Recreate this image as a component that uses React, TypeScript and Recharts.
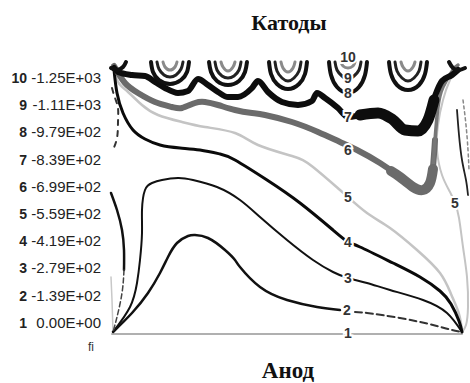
import React from 'react';
import { ComposedChart, Line, Scatter, XAxis, YAxis } from 'recharts';

type Pt = [number, number];

// Legend (level number -> potential value)
const levelNumbers = [1, 2, 3, 4, 5, 6, 7, 8, 9, 10];
const levelValues = ['0.00E+00', '-1.39E+02', '-2.79E+02', '-4.19E+02', '-5.59E+02', '-6.99E+02', '-8.39E+02', '-9.79E+02', '-1.11E+03', '-1.25E+03'];

// Contours, points as [phi, z]
const level1: Pt[] = [[1, 0], [351, 0]];
const level2Solid: Pt[] = [[2, 2], [21, 21], [37, 41], [49, 61], [57, 77], [66, 91], [77, 98], [84, 99], [97, 96], [114, 84], [124, 74], [129, 67], [149, 47], [176, 34], [206, 27], [229, 24]];
const level2Dashed: Pt[] = [[244, 22], [256, 21], [289, 16], [322, 9], [337, 5], [351, 2]];
const level3: Pt[] = [[2, 2], [19, 27], [26, 51], [29, 74], [31, 101], [31, 124], [34, 144], [41, 151], [51, 154], [67, 156], [82, 154], [106, 147], [129, 134], [149, 117], [176, 94], [202, 74], [222, 62], [237, 56], [256, 51], [279, 44], [312, 34], [336, 21], [351, 2]];
const level4: Pt[] = [[3, 264], [6, 241], [12, 221], [22, 204], [34, 195], [49, 189], [69, 186], [89, 184], [109, 180], [124, 174], [156, 154], [189, 131], [222, 104], [237, 92], [249, 87], [282, 71], [309, 57], [329, 43], [340, 30], [348, 13], [351, 2]];
const level4Wall: Pt[] = [[0, 141], [6, 124], [11, 104], [13, 84], [13, 64]];
const level4WallLow: Pt[] = [[13, 64], [11, 41], [6, 17], [2, 2]];
const wallTopLeft: Pt[] = [[1, 246], [4, 236], [7, 226], [7, 212], [6, 196], [1, 182]];
const level5: Pt[] = [[3, 266], [7, 252], [17, 242], [31, 229], [47, 219], [71, 212], [94, 207], [124, 201], [147, 189], [181, 178], [202, 167], [229, 144], [237, 137], [256, 121], [279, 106], [306, 84], [329, 61], [340, 40], [348, 20], [351, 2]];
const level5Right: Pt[] = [[347, 268], [339, 254], [332, 234], [327, 209], [326, 184], [331, 159], [339, 142], [344, 131], [348, 116], [352, 87], [356, 57], [357, 27], [355, 9], [351, 2]];
const level5Wall: Pt[] = [[0, 57], [1, 34], [2, 2]];
const rightBlack: Pt[] = [[346, 224], [348, 199], [351, 174], [355, 154], [357, 139]];
const rightDashed: Pt[] = [[352, 234], [355, 209], [357, 184], [358, 164]];
const level6: Pt[] = [[3, 268], [14, 251], [27, 241], [44, 232], [61, 227], [71, 226], [84, 231], [94, 232], [107, 229], [124, 224], [141, 221], [154, 219], [181, 212], [207, 202], [229, 192], [246, 184], [269, 171], [289, 157], [302, 147], [312, 144], [319, 151], [322, 167], [324, 194]];
const level6Up: Pt[] = [[322, 167], [324, 194], [327, 227], [332, 247], [342, 264], [347, 269]];
const level6Thick: Pt[] = [[280, 163], [289, 157], [302, 147], [312, 144], [319, 151], [322, 165]];
const level7: Pt[] = [[3, 266], [7, 262], [21, 259], [34, 258], [44, 252], [54, 246], [67, 241], [77, 243], [87, 255], [97, 249], [107, 242], [117, 237], [127, 237], [141, 246], [147, 253], [157, 242], [171, 232], [187, 229], [201, 233], [206, 241], [214, 236], [227, 226], [237, 217], [251, 219], [267, 221], [281, 215], [294, 204], [307, 203], [317, 216], [324, 238], [331, 253], [341, 259], [347, 264]];
const level7Thick: Pt[] = [[249, 219], [267, 221], [281, 215], [294, 204], [307, 203], [317, 214], [323, 234]];

const level8Arcs: Pt[][] = [
  [[40, 272], [42, 262], [48, 254], [59, 250], [70, 254], [76, 262], [78, 272]],
  [[98, 272], [100, 262], [106, 253], [117, 249], [128, 253], [134, 262], [136, 272]],
  [[158, 272], [160, 260], [166, 250], [177, 245], [188, 250], [194, 260], [196, 272]],
  [[218, 272], [220, 259], [226, 247], [237, 241], [248, 247], [254, 259], [256, 272]],
  [[278, 272], [280, 260], [286, 249], [297, 244], [308, 249], [314, 260], [316, 272]],
  [[0, 266], [6, 264], [12, 267], [15, 272]],
  [[338, 272], [342, 266], [348, 264], [354, 266]],
];
const level9Arcs: Pt[][] = [
  [[46, 272], [48, 265], [53, 259], [59, 257], [65, 259], [70, 265], [72, 272]],
  [[104, 272], [106, 264], [111, 258], [117, 256], [123, 258], [128, 264], [130, 272]],
  [[164, 272], [166, 263], [171, 256], [177, 253], [183, 256], [188, 263], [190, 272]],
  [[224, 272], [226, 264], [231, 258], [237, 255], [243, 258], [248, 264], [250, 272]],
  [[284, 272], [286, 263], [291, 256], [297, 253], [303, 256], [308, 263], [310, 272]],
];
const level10Arcs: Pt[][] = [
  [[52, 272], [54, 267], [59, 264], [64, 267], [66, 272]],
  [[110, 272], [112, 267], [117, 263], [122, 267], [124, 272]],
  [[170, 272], [172, 266], [177, 262], [182, 266], [184, 272]],
  [[230, 272], [232, 268], [237, 266], [242, 268], [244, 272]],
  [[290, 272], [292, 267], [297, 263], [302, 267], [304, 272]],
];

const contourLabels = [
  { p: 237, z: 1, t: '1' },
  { p: 236, z: 24, t: '2' },
  { p: 237, z: 56, t: '3' },
  { p: 237, z: 92, t: '4' },
  { p: 237, z: 137, t: '5' },
  { p: 344, z: 131, t: '5' },
  { p: 237, z: 184, t: '6' },
  { p: 237, z: 217, t: '7' },
  { p: 237, z: 241, t: '8' },
  { p: 237, z: 256, t: '9' },
  { p: 237, z: 277, t: '10' },
];

const toData = (a: Pt[]) => a.map(([p, z]) => ({ p, z }));

const mkLine = (key: string, pts: Pt[], stroke: string, w: number, extra: { dash?: string; type?: any } = {}) => (
  <Line
    key={key}
    yAxisId="z"
    data={toData(pts)}
    dataKey="z"
    type={extra.type || 'natural'}
    stroke={stroke}
    strokeWidth={w}
    strokeDasharray={extra.dash}
    strokeLinecap="round"
    strokeLinejoin="round"
    dot={false}
    activeDot={false}
    legendType="none"
    isAnimationActive={false}
  />
);

const LegendTick = (props: any) => {
  const { y, payload } = props;
  const n = payload.value as number;
  return (
    <g>
      <text x={27} y={y} dy={5} textAnchor="end" fontFamily="'Liberation Sans', Arial, sans-serif" fontWeight="bold" fontSize={14} fill="#222">{n}</text>
      <text x={101} y={y} dy={5} textAnchor="end" fontFamily="'Liberation Sans', Arial, sans-serif" fontSize={15} fill="#222">{levelValues[n - 1]}</text>
    </g>
  );
};

const LabelShape = (props: any) => {
  const { cx, cy, payload } = props;
  return (
    <text x={cx} y={cy} dy={5} textAnchor="middle" fontFamily="'Liberation Sans', Arial, sans-serif" fontWeight="bold" fontSize={14} fill="#333" stroke="#fff" strokeWidth={4} paintOrder="stroke">{payload.t}</text>
  );
};

export default function App() {
  return (
    <div style={{ position: 'absolute', left: 0, top: 0, width: 470, height: 383, background: '#fff' }}>
      <ComposedChart width={470} height={383} margin={{ top: 57, right: 1, bottom: 47, left: 0 }}>
        <XAxis dataKey="p" type="number" domain={[-2, 358]} hide />
        <YAxis yAxisId="z" type="number" domain={[-2, 277]} hide />
        <YAxis yAxisId="legend" orientation="left" width={109} type="number" domain={[0.52, 10.77]} ticks={levelNumbers} interval={0} axisLine={false} tickLine={false} tick={<LegendTick />} allowDataOverflow />
        {mkLine('l1', level1, '#b0b0b0', 2, { type: 'linear' })}
        {mkLine('l5w', level5Wall, '#c8c8c8', 1.5)}
        {mkLine('l5', level5, '#c4c4c4', 2.5)}
        {mkLine('l5r', level5Right, '#c4c4c4', 2)}
        {mkLine('rd', rightDashed, '#888', 1.5, { dash: '3 3' })}
        {mkLine('rb', rightBlack, '#222', 1.8)}
        {mkLine('l2', level2Solid, '#111', 2.5)}
        {mkLine('l2d', level2Dashed, '#333', 2, { dash: '7 4' })}
        {mkLine('l3', level3, '#111', 2)}
        {mkLine('l4', level4, '#0a0a0a', 3)}
        {mkLine('l4w', level4Wall, '#111', 2.5)}
        {mkLine('l4wl', level4WallLow, '#444', 1.5, { dash: '5 3' })}
        {mkLine('wtl', wallTopLeft, '#333', 2, { dash: '5 6' })}
        {mkLine('l6', level6, '#6b6b6b', 6)}
        {mkLine('l6u', level6Up, '#777', 3.5)}
        {mkLine('l6t', level6Thick, '#6b6b6b', 10)}
        {mkLine('l7', level7, '#0d0d0d', 6, { type: 'monotone' })}
        {mkLine('l7t', level7Thick, '#0d0d0d', 11, { type: 'monotone' })}
        {level8Arcs.map((a, i) => mkLine('a8-' + i, a, '#111', 4))}
        {level9Arcs.map((a, i) => mkLine('a9-' + i, a, '#222', 3))}
        {level10Arcs.map((a, i) => mkLine('a10-' + i, a, '#8a8a8a', 3))}
        <Scatter yAxisId="z" data={contourLabels} dataKey="z" shape={LabelShape} isAnimationActive={false} legendType="none" />
      </ComposedChart>
      <svg width={470} height={383} style={{ position: 'absolute', left: 0, top: 0, pointerEvents: 'none' }}>
        <text x={289} y={30} textAnchor="middle" fontFamily="'Liberation Serif', 'Times New Roman', serif" fontWeight="bold" fontSize={22} fill="#111">Катоды</text>
        <text x={288} y={378} textAnchor="middle" fontFamily="'Liberation Serif', 'Times New Roman', serif" fontWeight="bold" fontSize={23} fill="#111">Анод</text>
        <text x={91} y={351} textAnchor="middle" fontFamily="'Liberation Sans', Arial, sans-serif" fontSize={12} fill="#333">fi</text>
      </svg>
    </div>
  );
}
